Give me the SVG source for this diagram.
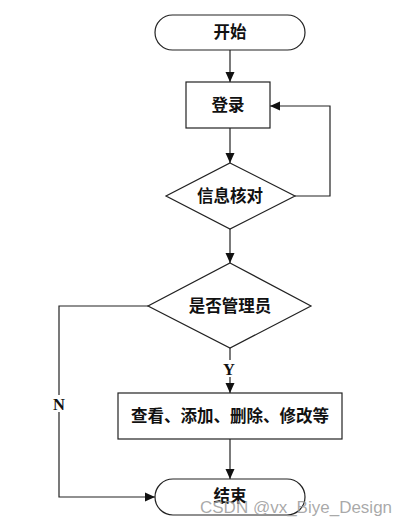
<svg xmlns="http://www.w3.org/2000/svg" width="420" height="526" viewBox="0 0 420 526">
<style>
.s{fill:#fff;stroke:#222;stroke-width:1.2}
.c{fill:none;stroke:#222;stroke-width:1.2}
.t{font-family:"Liberation Serif","Noto Sans CJK SC",serif;font-weight:bold;font-size:16.5px;fill:#111;text-anchor:middle;dominant-baseline:central}
.w{font-family:"Liberation Sans","DejaVu Sans",sans-serif;font-size:17px;fill:#9a9a9a;fill-opacity:0.85}
</style>
<defs>
<marker id="a" viewBox="0 0 10 10" refX="10" refY="5" markerWidth="10" markerHeight="10" markerUnits="userSpaceOnUse" orient="auto">
<path d="M0,0.5 L10,5 L0,9.5 Z" fill="#111"/>
</marker>
</defs>
<rect width="420" height="526" fill="#fff"/>
<g id="connectors">
<line class="c" x1="230" y1="50" x2="230" y2="82" marker-end="url(#a)"/>
<line class="c" x1="230" y1="128" x2="230" y2="163" marker-end="url(#a)"/>
<polyline class="c" points="295,196 330,196 330,106 270,106" marker-end="url(#a)"/>
<line class="c" x1="230" y1="229" x2="230" y2="263" marker-end="url(#a)"/>
<line class="c" x1="230" y1="348" x2="230" y2="393" marker-end="url(#a)"/>
<polyline class="c" points="148,306 59,306 59,497 155,497" marker-end="url(#a)"/>
<line class="c" x1="230" y1="439" x2="230" y2="479" marker-end="url(#a)"/>
<rect x="221" y="360" width="16" height="17" fill="#fff"/>
<text class="t" x="229" y="369" font-size="15">Y</text>
<rect x="51" y="395" width="16" height="17" fill="#fff"/>
<text class="t" x="59" y="404" font-size="15">N</text>
</g>
<g id="start">
<rect class="s" x="155" y="15" width="150" height="35" rx="17.5"/>
<text class="t" x="230" y="32.5">开始</text>
</g>
<g id="login">
<rect class="s" x="186" y="82" width="84" height="46"/>
<text class="t" x="228" y="105">登录</text>
</g>
<g id="verify">
<polygon class="s" points="230,163 295,196 230,229 166,196"/>
<text class="t" x="230" y="196">信息核对</text>
</g>
<g id="isadmin">
<polygon class="s" points="230,263 311,306 230,348 148,306"/>
<text class="t" x="230" y="306">是否管理员</text>
</g>
<g id="manage">
<rect class="s" x="118" y="393" width="224" height="46"/>
<text class="t" x="230" y="416">查看、添加、删除、修改等</text>
</g>
<g id="end">
<rect class="s" x="155" y="479" width="150" height="36" rx="18"/>
<text class="t" x="230" y="496">结束</text>
</g>
<text class="w" x="200" y="513">CSDN @vx_Biye_Design</text>
</svg>
